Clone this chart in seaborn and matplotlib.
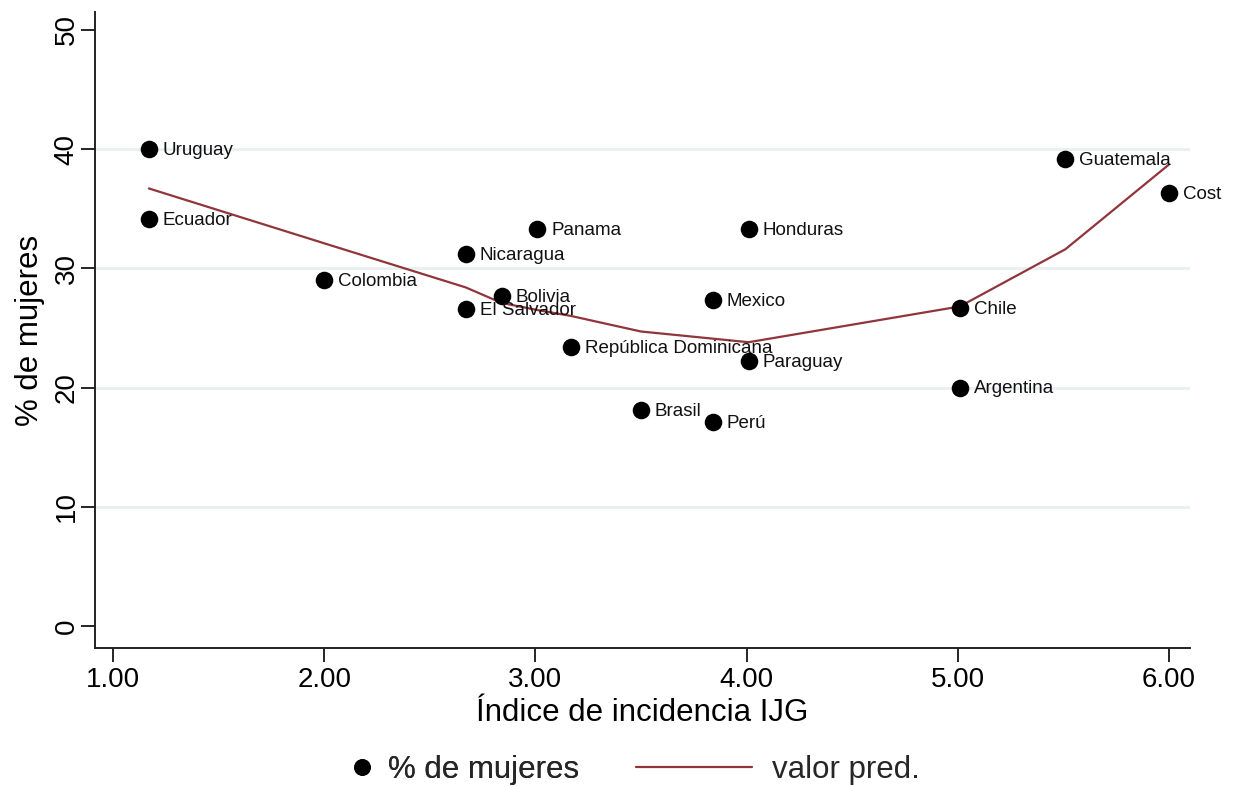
import matplotlib
matplotlib.use("Agg")
import matplotlib.pyplot as plt
from matplotlib.transforms import Bbox, TransformedBbox
from matplotlib.lines import Line2D
import seaborn as sns
import pandas as pd

# Country data: gender-incidence index vs. share of women
paises = ["Uruguay", "Ecuador", "Colombia", "Nicaragua", "El Salvador", "Bolivia",
          "Panama", "República Dominicana", "Brasil", "Perú", "Mexico", "Honduras",
          "Paraguay", "Chile", "Argentina", "Guatemala", "Costa Rica"]
indice_ijg = [1.17, 1.17, 2.00, 2.67, 2.67, 2.84, 3.01, 3.17, 3.50, 3.84, 3.84,
              4.01, 4.01, 5.01, 5.01, 5.51, 6.00]
pct_mujeres = [40.0, 34.1, 29.0, 31.2, 26.6, 27.7, 33.3, 23.4, 18.1, 17.1, 27.3,
               33.3, 22.2, 26.7, 20.0, 39.2, 36.3]

# Fitted values at each distinct index value
pred_x = [1.17, 2.00, 2.67, 2.84, 3.01, 3.17, 3.50, 3.84, 4.01, 5.01, 5.51, 6.00]
pred_y = [36.7, 32.1, 28.4, 27.1, 26.5, 26.0, 24.7, 24.1, 23.8, 26.8, 31.6, 38.7]

x_ticks = [1, 2, 3, 4, 5, 6]
y_ticks = [0, 10, 20, 30, 40, 50]

df = pd.DataFrame({"pais": paises, "ijg": indice_ijg, "pct": pct_mujeres})
df_pred = pd.DataFrame({"ijg": pred_x, "pred": pred_y})

sns.set_theme(style="white")
plt.rcParams["font.family"] = ["Liberation Sans", "DejaVu Sans"]

LINE_COLOR = "#90353B"
GRID_COLOR = "#E8F0F2"
W, H = 1233, 787

fig = plt.figure(figsize=(W / 100, H / 100), dpi=100)
ax = fig.add_axes([95 / W, 1 - 648 / H, (1190 - 95) / W, (648 - 12) / H])

for yv in [10, 20, 30, 40]:
    ax.axhline(yv, color=GRID_COLOR, lw=2.0, zorder=0)

sns.scatterplot(data=df, x="ijg", y="pct", ax=ax, color="black", s=160,
                edgecolor="black", linewidth=0, zorder=3, legend=False)
sns.lineplot(data=df_pred, x="ijg", y="pred", ax=ax, color=LINE_COLOR, lw=1.6,
             zorder=2, legend=False, estimator=None, sort=False)

# marker labels are clipped at the right edge of the graph region
clip_box = TransformedBbox(Bbox([[0, 0], [1222 / W, 1]]), fig.transFigure)
for _, r in df.iterrows():
    t = ax.annotate(r["pais"], (r["ijg"], r["pct"]), xytext=(10, -1),
                    textcoords="offset points", ha="left", va="center",
                    fontsize=13.5, color="#111111", zorder=4, annotation_clip=False)
    t.set_clip_on(True)
    t.set_clip_box(clip_box)

ax.set_xlim(0.915, 6.10)
ax.set_ylim(-1.85, 51.5)
ax.set_xticks(x_ticks)
ax.set_xticklabels([f"{v:.2f}" for v in x_ticks])
ax.set_yticks(y_ticks)
ax.set_yticklabels([str(v) for v in y_ticks], rotation=90, va="center")

ax.tick_params(axis="x", which="major", direction="out", length=10, width=1.2,
               color="black", labelsize=20, labelcolor="black", pad=4, bottom=True)
ax.tick_params(axis="y", which="major", direction="out", length=10, width=1.2,
               color="black", labelsize=20, labelcolor="black", pad=1, left=True)
for side in ["top", "right"]:
    ax.spines[side].set_visible(False)
for side in ["left", "bottom"]:
    ax.spines[side].set_color("#222222")
    ax.spines[side].set_linewidth(1.4)

ax.set_xlabel("Índice de incidencia IJG", fontsize=22.5, color="black", labelpad=3)
ax.set_ylabel("% de mujeres", fontsize=22.5, color="black", labelpad=6)

# legend: small key for the marker, longer key for the fitted line
FS = 22.5
em = FS * 100 / 72
leg_y = 1 - 770 / H
h_marker = [Line2D([0], [0], marker="o", color="none", markerfacecolor="black",
                   markeredgecolor="black", markersize=11)]
h_line = [Line2D([0], [0], color=LINE_COLOR, lw=1.6)]
leg1 = fig.legend(h_marker, ["% de mujeres"], loc="center left",
                  bbox_to_anchor=(346 / W, leg_y), frameon=False, fontsize=FS,
                  borderpad=0, borderaxespad=0, handlelength=32 / em,
                  handletextpad=10 / em)
fig.add_artist(leg1)
fig.legend(h_line, ["valor pred."], loc="center left",
           bbox_to_anchor=(636 / W, leg_y), frameon=False, fontsize=FS,
           borderpad=0, borderaxespad=0, handlelength=116 / em,
           handletextpad=20 / em)

fig.savefig("out.png", dpi=100, facecolor="white")
